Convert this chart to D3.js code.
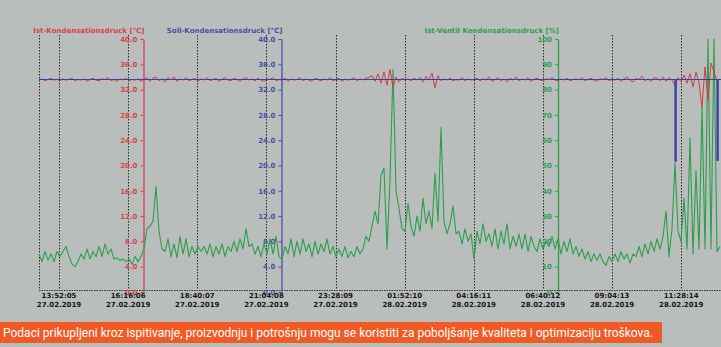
<!DOCTYPE html>
<html>
<head>
<meta charset="utf-8">
<script src="https://cdn.jsdelivr.net/npm/d3@7"></script>
<style>
  html, body { margin: 0; padding: 0; background: #b9bdbc; }
  svg { display: block; }
</style>
</head>
<body>
<svg id="chart" width="721" height="347"></svg>
<script>
// Sampling of the logger: first sample and spacing in seconds
const startTime = "2019-02-27 13:10:25";
const sampleSeconds = 375;

// Time axis labels (gridline positions)
const timeTicks = [
  "2019-02-27 13:52:05", "2019-02-27 16:16:06", "2019-02-27 18:40:07",
  "2019-02-27 21:04:08", "2019-02-27 23:28:09", "2019-02-28 01:52:10",
  "2019-02-28 04:16:11", "2019-02-28 06:40:12", "2019-02-28 09:04:13",
  "2019-02-28 11:28:14"
];

// Value axis ticks
const tempTicks = [0, 4, 8, 12, 16, 20, 24, 28, 32, 36, 40];
const pctTicks = [0, 10, 20, 30, 40, 50, 60, 70, 80, 90, 100];

// Ist-Ventil Kondensationsdruck [%]
const istVentil = [
  15, 12, 16, 12.5, 15, 12, 16, 14, 16, 18,
  14, 11, 10, 12, 15, 13, 17, 13, 16, 14,
  18, 14, 19, 15, 17, 13, 13.5, 12.5, 13, 12,
  13, 11, 14, 12, 14, 17, 25, 26, 28, 41.7,
  24, 17, 16, 21, 14, 19, 13.5, 22, 15, 21,
  14, 18, 15, 18, 16, 18, 15, 19, 14, 18,
  15, 19, 14, 18, 16, 20, 16, 21, 17, 25,
  18, 19, 15, 18, 14, 19, 15, 21, 15, 22,
  14, 13, 18, 15, 21, 14, 20, 15, 21, 16,
  19, 14, 20, 15, 19, 16, 21, 15, 18, 14,
  17, 14, 18, 13.5, 16, 14, 18, 15, 17, 22,
  20, 26, 32, 27, 46, 49, 17, 44, 88, 40,
  33, 25, 24, 35, 26, 22, 30, 24, 37, 27,
  32, 25, 47, 28, 65, 28, 23, 27, 34, 23,
  24, 19, 25, 20, 23, 13, 24, 19, 27, 20,
  23, 18, 25, 17, 24, 19, 27, 17, 22, 18,
  23, 17, 23, 16, 22, 18, 16, 21, 17, 20,
  18, 22, 17, 21, 15, 20, 16, 21, 15, 18,
  14, 17, 13, 16, 12, 15, 12.5, 15, 12, 10.5,
  14, 12, 15, 12, 16, 13, 15, 11.5, 15, 14,
  18, 14, 19, 15, 20, 16, 21, 17, 22, 32,
  14, 25, 51, 24, 20, 37, 17, 61, 15, 48,
  17, 73, 17, 100, 17, 100, 16, 18
];

// Ist-Kondensationsdruck [°C]
const istDruck = [
  33.5, 33.7, 33.4, 33.6, 33.8, 33.5, 33.6, 33.4, 33.7, 33.5,
  33.6, 33.8, 33.4, 33.6, 33.5, 33.7, 33.3, 33.6, 33.8, 33.5,
  33.4, 33.7, 33.6, 33.9, 33.4, 33.6, 33.3, 33.7, 33.5, 33.8,
  33.4, 33.6, 33.5, 33.7, 33.3, 33.6,
  33.9, 33.3, 33.8, 34.0, 33.4, 33.7, 33.2, 33.9, 33.5, 34.0,
  33.3, 33.7, 33.5, 33.9, 33.4, 33.6, 33.8, 33.3, 33.7, 33.5,
  33.9, 33.4, 33.6, 33.8, 33.3, 33.6, 33.9, 33.5, 33.4, 33.8,
  33.6, 33.3, 33.7, 33.9, 33.5,
  33.7, 33.4, 33.8, 33.5, 33.3, 33.7, 33.6, 33.9, 33.4, 33.6,
  33.5, 33.8, 33.3, 33.7, 33.5, 33.6, 33.9, 33.4, 33.7, 33.5,
  33.3, 33.8, 33.6, 33.4, 33.7, 33.5, 33.9, 33.4, 33.6, 33.8,
  33.3, 33.7, 33.5, 33.6, 33.9, 33.4, 33.7, 33.5, 33.8,
  33.9, 34.2, 33.3, 34.5, 33.0, 34.8, 32.7, 35.2, 32.3, 34.0,
  33.2, 33.8, 33.5,
  33.7, 33.4, 33.8, 33.5, 33.9, 33.2, 34.1, 33.5, 34.6, 32.3,
  34.2, 33.4, 33.7, 33.5, 33.8, 33.4, 33.6, 33.5, 33.9, 33.4,
  33.7, 33.5, 33.6,
  33.8, 33.4, 33.7, 33.5, 34.0, 33.3, 33.6, 33.9, 33.4, 33.7,
  33.2, 33.8, 33.5, 34.0, 33.4, 33.7, 33.5, 33.9, 33.3, 33.6,
  33.8, 33.5, 33.4, 33.7, 33.6, 33.9, 33.5, 33.4, 33.7, 33.5,
  33.8, 33.4, 33.6, 33.7, 33.5, 33.9, 33.4, 33.6, 33.8, 33.5,
  33.3, 33.7, 33.6, 33.9, 33.4, 33.7, 33.5, 33.8, 33.3, 33.7,
  34.0, 33.5, 33.2, 33.8, 33.6, 34.1, 33.4, 33.7, 33.3, 33.9,
  33.8, 33.4, 34.0, 33.3, 33.9, 33.5, 32.7, 33.9, 33.2, 34.3,
  33.0, 34.5, 32.4, 34.8, 33.1, 29.2, 35.6, 30.3, 36.2, 34.8,
  33.4, 33.6
];

// Soll-Kondensationsdruck [°C]: [sample position, setpoint] held until next change
const sollSteps = [[0, 33.6], [212, 20.7], [212.4, 33.6], [226, 20.8], [226.4, 33.6]];

const parse = d3.utcParse("%Y-%m-%d %H:%M:%S");
const t0 = parse(startTime);
const timeAt = i => new Date(t0.getTime() + i * sampleSeconds * 1000);
const lastIndex = istVentil.length - 1;

const svg = d3.select("#chart");
const font = "DejaVu Sans, Verdana, sans-serif";

const x = d3.scaleUtc().domain([t0, timeAt(lastIndex)]).range([39, 720]);
const yT = d3.scaleLinear().domain([0, 40]).range([292, 39]);
const yP = d3.scaleLinear().domain([0, 100]).range([292, 39]);

const colRed = "#d8424c", colBlue = "#4a4ea2", colGreen = "#2e9e50";
const lineRed = "#d63c3c", lineBlue = "#3d3fa8", lineGreen = "#2a9f4c";

// Dotted vertical gridlines: plot edge plus every time label
const gridTimes = [t0].concat(timeTicks.map(parse));
svg.append("g").selectAll("line").data(gridTimes).join("line")
  .attr("x1", d => Math.round(x(d)) + 0.5).attr("x2", d => Math.round(x(d)) + 0.5)
  .attr("y1", 35).attr("y2", 290)
  .attr("stroke", "#2a2a2a").attr("stroke-width", 1).attr("stroke-dasharray", "1.5,1.5");

// Dotted baseline
svg.append("line")
  .attr("x1", 39).attr("x2", 721).attr("y1", 290.5).attr("y2", 290.5)
  .attr("stroke", "#333").attr("stroke-width", 1).attr("stroke-dasharray", "1.5,1");

// Value axes
function valueAxis(xPos, scale, ticks, fmt, color, title) {
  const g = svg.append("g").attr("transform", `translate(${xPos},0)`)
    .call(d3.axisLeft(scale).tickValues(ticks).tickFormat(fmt).tickSize(3).tickPadding(3).tickSizeOuter(0));
  g.select(".domain").attr("stroke", color).attr("stroke-width", 1.3);
  g.selectAll(".tick line").attr("stroke", color);
  g.selectAll(".tick text").attr("fill", color)
    .attr("font-family", font).attr("font-weight", "bold").attr("font-size", 7);
  svg.append("text").attr("x", xPos + 1).attr("y", 33).attr("text-anchor", "end")
    .attr("fill", color).attr("font-family", font).attr("font-weight", "bold")
    .attr("font-size", 7).text(title);
}
valueAxis(143.5, yT, tempTicks, d3.format(".1f"), colRed, "Ist-Kondensationsdruck [°C]");
valueAxis(281.5, yT, tempTicks, d3.format(".1f"), colBlue, "Soll-Kondensationsdruck [°C]");
valueAxis(558, yP, pctTicks, d3.format("d"), colGreen, "Ist-Ventil Kondensationsdruck [%]");

// Time labels
const fmtTime = d3.utcFormat("%H:%M:%S"), fmtDate = d3.utcFormat("%d.%m.%Y");
const tl = svg.append("g").selectAll("g").data(timeTicks.map(parse)).join("g")
  .attr("transform", d => `translate(${x(d)},0)`)
  .attr("font-family", font).attr("font-weight", "bold").attr("font-size", 7)
  .attr("fill", "#151515").attr("text-anchor", "middle");
tl.append("text").attr("y", 298).text(d => fmtTime(d));
tl.append("text").attr("y", 306.5).text(d => fmtDate(d));

// Series
const plot = svg.append("g");
plot.append("path").datum(istVentil)
  .attr("fill", "none").attr("stroke", lineGreen).attr("stroke-width", 1.1)
  .attr("stroke-linejoin", "round")
  .attr("d", d3.line().x((d, i) => x(timeAt(i))).y(d => yP(d)));
plot.append("path").datum(istDruck)
  .attr("fill", "none").attr("stroke", lineRed).attr("stroke-width", 1)
  .attr("d", d3.line().x((d, i) => x(timeAt(i))).y(d => yT(d)));
const sollPoints = sollSteps.concat([[lastIndex + 1, sollSteps[sollSteps.length - 1][1]]]);
plot.append("path").datum(sollPoints)
  .attr("fill", "none").attr("stroke", lineBlue).attr("stroke-width", 1.2)
  .attr("d", d3.line().curve(d3.curveStepAfter)
    .x(d => Math.min(721, x(timeAt(d[0])))).y(d => yT(d[1])));

// Caption band
svg.append("rect").attr("x", 0).attr("y", 322).attr("width", 662).attr("height", 21)
  .attr("fill", "#f15a24");
svg.append("text").attr("x", 3).attr("y", 337)
  .attr("fill", "#ffffff").attr("font-family", "Roboto, Open Sans, sans-serif").attr("font-size", 13)
  .attr("textLength", 650).attr("lengthAdjust", "spacingAndGlyphs")
  .text("Podaci prikupljeni kroz ispitivanje, proizvodnju i potrošnju mogu se koristiti za poboljšanje kvaliteta i optimizaciju troškova.");
</script>
</body>
</html>
